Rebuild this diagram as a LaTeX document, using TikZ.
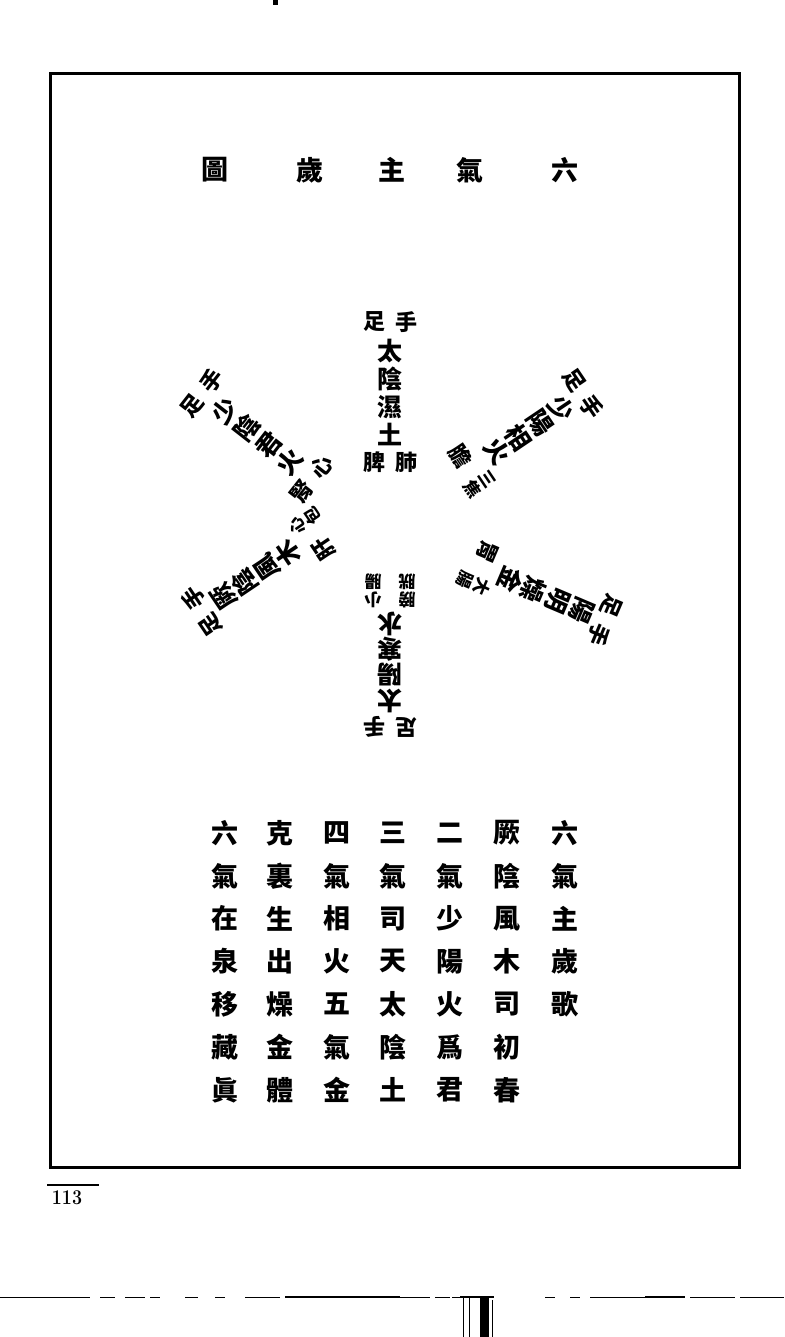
\documentclass[tikz,border=0pt]{standalone}
\usepackage{fontspec}
\newfontfamily\cjk{Noto Sans CJK TC}
\tikzset{
  ch/.style={font=\cjk\bfseries\fontsize{27}{27}\selectfont, inner sep=0pt},
  armch/.style={font=\cjk\bfseries\fontsize{25}{25}\selectfont, inner sep=0pt, transform shape},
  pairch/.style={font=\cjk\bfseries\fontsize{22}{22}\selectfont, inner sep=0pt, transform shape},
  smallch/.style={font=\cjk\bfseries\fontsize{17}{17}\selectfont, inner sep=0pt, transform shape},
  frame/.style={line width=3pt},
  rule/.style={line width=1.2pt},
}
% arm with one-character organs
\newcommand\armone[9]{%
  \begin{scope}[shift={#2},rotate=#3]
    \node[pairch] (#1-zu) at (-16,-70) {足};
    \node[pairch] (#1-shou) at (16,-70) {手};
    \node[armch] (#1-1) at (0,-41) {#4};
    \node[armch] (#1-2) at (0,-13) {#5};
    \node[armch] (#1-3) at (0,15) {#6};
    \node[armch] (#1-4) at (0,42) {#7};
    \node[pairch] (#1-l) at (-16,70) {#8};
    \node[pairch] (#1-r) at (16,70) {#9};
  \end{scope}}
% arm whose organs are given as node code
\newcommand\armtwo[8]{%
  \begin{scope}[shift={#2},rotate=#3]
    \node[pairch] (#1-zu) at (-16,-70) {足};
    \node[pairch] (#1-shou) at (16,-70) {手};
    \node[armch] (#1-1) at (0,-44) {#4};
    \node[armch] (#1-2) at (0,-18) {#5};
    \node[armch] (#1-3) at (0,8) {#6};
    \node[armch] (#1-4) at (0,33) {#7};
    #8
  \end{scope}}
\begin{document}
\begin{tikzpicture}[x=1pt,y=-1pt]
\useasboundingbox (0,0) rectangle (784,1337);
\fill[white] (0,0) rectangle (784,1337);
% frame
\draw[frame] (50,74) rectangle (739,1167);
% title
\node[ch] (t1) at (565,170) {六};
\node[ch] (t2) at (470,170) {氣};
\node[ch] (t3) at (392,170) {主};
\node[ch] (t4) at (310,170) {歲};
\node[ch] (t5) at (215,170) {圖};
% six arms
\armone{top}{(390,392)}{0}{太}{陰}{濕}{土}{脾}{肺}
\armone{ul}{(257,436)}{52}{少}{陰}{君}{火}{腎}{心}
\armtwo{ur}{(525,433)}{-56}{少}{陽}{相}{火}{%
  \node[pairch] (ur-l) at (-17,66) {膽};
  \node[smallch] (ur-r1) at (17,57) {三};
  \node[smallch] (ur-r2) at (17,75) {焦};}
\armtwo{lr}{(541,593)}{-113}{陽}{明}{燥}{金}{%
  \node[pairch] (lr-l) at (-17,66) {胃};
  \node[smallch] (lr-r1) at (17,57) {大};
  \node[smallch] (lr-r2) at (17,75) {腸};}
\armtwo{bot}{(390,657)}{180}{太}{陽}{寒}{水}{%
  \node[smallch] (bot-l1) at (-17,57) {膀};
  \node[smallch] (bot-l2) at (-17,75) {胱};
  \node[smallch] (bot-r1) at (17,57) {小};
  \node[smallch] (bot-r2) at (17,75) {腸};}
\armtwo{ll}{(260,572)}{124}{厥}{陰}{風}{木}{%
  \node[pairch] (ll-l) at (-17,66) {肝};
  \node[smallch] (ll-r1) at (17,57) {心};
  \node[smallch] (ll-r2) at (17,75) {包};}
% poem
\foreach \x/\col [count=\i] in {565/{六,氣,主,歲,歌},507/{厥,陰,風,木,司,初,春},450/{二,氣,少,陽,火,爲,君},393/{三,氣,司,天,太,陰,土},337/{四,氣,相,火,五,氣,金},280/{克,裏,生,出,燥,金,體},225/{六,氣,在,泉,移,藏,眞}}{
  \foreach \c [count=\j] in \col {
    \node[ch] (p\i-\j) at (\x,{833+42.8*(\j-1)}) {\c};
  }
}
% page number
\draw[rule] (47,1185) -- (99,1185);
\node[font=\bfseries\fontsize{21}{21}\selectfont, inner sep=0pt, xscale=0.85] (pg) at (67,1198) {113};
% top mark
\fill (273,0) rectangle (278,5);
% bottom dashed edge
\foreach \a/\b/\w in {0/55/0.6,55/90/0.9,100/115/0.7,125/145/0.7,150/160/0.7,185/198/0.7,215/225/0.7,245/280/0.9,285/400/1.1,400/430/0.9,435/450/0.7,452/466/0.9,545/555/0.7,570/580/0.7,590/645/0.9,645/685/1.1,690/735/0.9,740/784/0.9}{
  \draw[line width=\w pt] (\a,1297) -- (\b,1297);
}
% binding bars
\draw[line width=1.6pt] (460,1297) -- (494,1297);
\draw[line width=0.7pt] (463,1297) -- (463,1337);
\draw[line width=0.7pt] (469,1297) -- (469,1337);
\fill (480,1297) rectangle (489,1337);
\draw[line width=0.5pt] (492,1300) -- (492,1337);
\end{tikzpicture}
\end{document}
